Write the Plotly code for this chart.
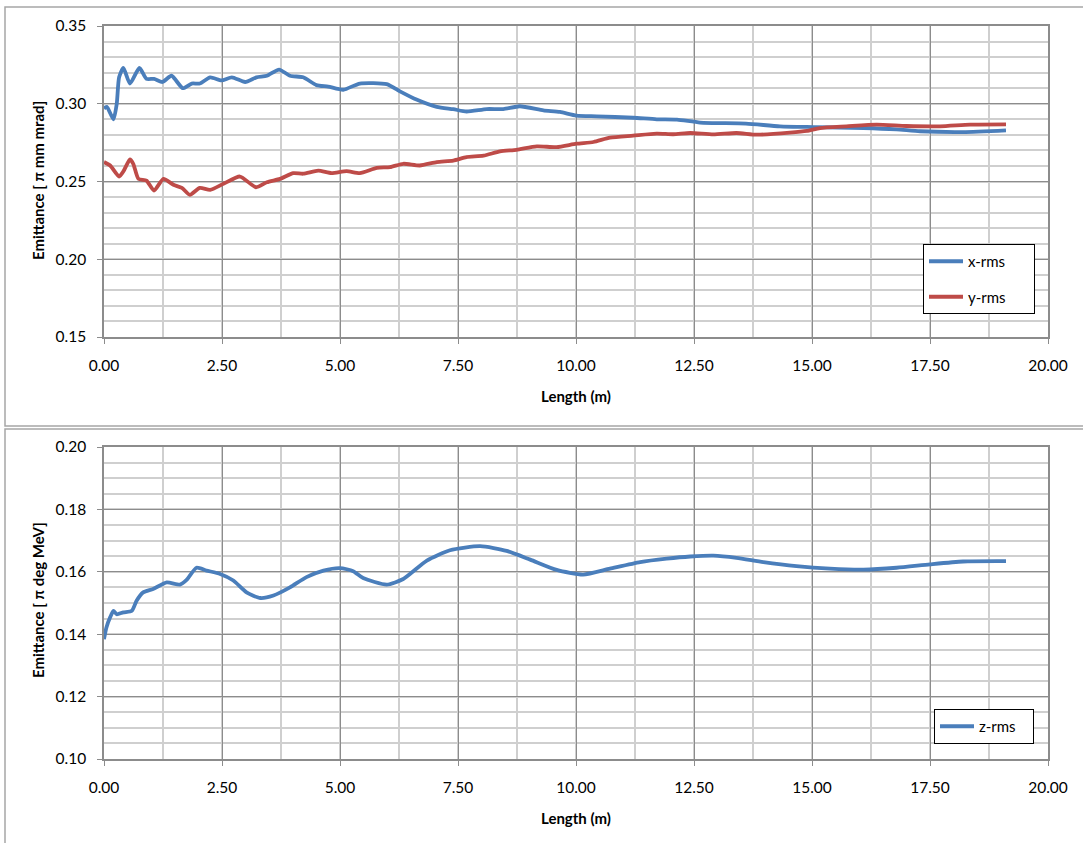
import plotly.graph_objects as go

# ---------------- data ----------------
xrms_len = [0.00, 0.06, 0.20, 0.27, 0.32, 0.41, 0.55, 0.75, 0.90, 1.06, 1.24, 1.43, 1.67, 1.86,
            2.03, 2.25, 2.49, 2.71, 2.99, 3.23, 3.45, 3.71, 3.94, 4.22, 4.50, 4.75, 5.07, 5.42,
            5.99, 6.27, 6.62, 7.05, 7.40, 7.68, 8.11, 8.46, 8.81, 9.31, 9.66, 10.01, 10.44,
            11.21, 11.71, 12.14, 12.63, 13.60, 14.32, 15.03, 16.09, 16.79, 17.29, 18.20, 19.11]
xrms_val = [0.297, 0.298, 0.290, 0.300, 0.317, 0.323, 0.313, 0.323, 0.316, 0.316, 0.314, 0.318,
            0.310, 0.313, 0.313, 0.317, 0.315, 0.317, 0.314, 0.317, 0.318, 0.322, 0.318, 0.317,
            0.312, 0.311, 0.309, 0.313, 0.3126, 0.308, 0.3027, 0.298, 0.2965, 0.295, 0.2966,
            0.2966, 0.2984, 0.2958, 0.2947, 0.2924, 0.2919, 0.291, 0.290, 0.2898, 0.2879,
            0.2872, 0.2855, 0.285, 0.2844, 0.2835, 0.2823, 0.2818, 0.2829]

yrms_len = [0.00, 0.13, 0.32, 0.42, 0.55, 0.62, 0.73, 0.90, 1.06, 1.26, 1.47, 1.65, 1.82, 2.03,
            2.25, 2.53, 2.88, 3.22, 3.45, 3.73, 4.01, 4.22, 4.54, 4.82, 5.14, 5.42, 5.78, 6.06,
            6.34, 6.69, 7.05, 7.40, 7.68, 8.04, 8.39, 8.74, 9.17, 9.59, 10.01, 10.37, 10.72,
            11.21, 11.71, 12.06, 12.42, 12.91, 13.40, 13.83, 14.53, 14.89, 15.17, 15.73, 16.37,
            17.00, 17.71, 18.35, 19.11]
yrms_val = [0.2625, 0.2603, 0.2532, 0.257, 0.2642, 0.2614, 0.2517, 0.2506, 0.2442, 0.2517,
            0.2479, 0.2459, 0.2414, 0.2459, 0.2446, 0.2485, 0.2532, 0.2463, 0.2495, 0.2517,
            0.2554, 0.255, 0.257, 0.2554, 0.2567, 0.2554, 0.2588, 0.2592, 0.2614, 0.2603,
            0.2625, 0.2635, 0.2657, 0.2666, 0.2694, 0.2704, 0.2726, 0.2721, 0.2743, 0.2754,
            0.2782, 0.2795, 0.2808, 0.2804, 0.2812, 0.2803, 0.2812, 0.2801, 0.2814, 0.2825,
            0.2844, 0.2855, 0.2866, 0.2857, 0.2855, 0.2866, 0.2868]

zrms_len = [0.00, 0.05, 0.13, 0.20, 0.27, 0.41, 0.59, 0.69, 0.83, 1.04, 1.33, 1.61, 1.75, 1.96,
            2.17, 2.46, 2.74, 3.02, 3.31, 3.59, 3.94, 4.29, 4.65, 5.00, 5.28, 5.49, 5.99, 6.34,
            6.84, 7.33, 7.97, 8.53, 9.03, 9.59, 10.15, 10.72, 11.36, 11.92, 12.42, 12.91, 13.40,
            13.97, 14.67, 15.38, 16.09, 16.79, 17.50, 18.20, 19.11]
zrms_val = [0.1384, 0.1421, 0.1454, 0.1475, 0.1464, 0.147, 0.1475, 0.1507, 0.1534, 0.1545,
            0.1566, 0.1559, 0.1574, 0.1613, 0.1604, 0.1593, 0.1572, 0.1534, 0.1516, 0.1524,
            0.155, 0.1583, 0.1604, 0.1612, 0.1602, 0.158, 0.1559, 0.1577, 0.1636, 0.1669,
            0.1682, 0.1667, 0.1639, 0.1606, 0.1591, 0.161, 0.1631, 0.1642, 0.1649, 0.1652,
            0.1645, 0.1631, 0.1618, 0.161, 0.1607, 0.1613, 0.1624, 0.1633, 0.1634]

x_ticks = [0.0, 2.5, 5.0, 7.5, 10.0, 12.5, 15.0, 17.5, 20.0]
x_ticklabels = ["0.00", "2.50", "5.00", "7.50", "10.00", "12.50", "15.00", "17.50", "20.00"]
y1_ticks = [0.15, 0.20, 0.25, 0.30, 0.35]
y2_ticks = [0.10, 0.12, 0.14, 0.16, 0.18, 0.20]

BLUE = "#4A7EBB"
RED = "#BE4B48"
FONT = "Lato"

W, H = 1083, 843

def px_x(p):
    return p / W

def px_y(p):
    return 1 - p / H

NB = "\u00a0"

fig = go.Figure()

fig.add_trace(go.Scatter(x=xrms_len, y=xrms_val, mode="lines", name="x-rms" + NB * 6,
                         line=dict(color=BLUE, width=3.8, shape="spline", smoothing=0.6),
                         xaxis="x", yaxis="y", legend="legend", legendgroup="a"))
fig.add_trace(go.Scatter(x=yrms_len, y=yrms_val, mode="lines", name="y-rms" + NB * 6,
                         line=dict(color=RED, width=3.8, shape="spline", smoothing=0.6),
                         xaxis="x", yaxis="y", legend="legend", legendgroup="b"))
fig.add_trace(go.Scatter(x=zrms_len, y=zrms_val, mode="lines", name="z-rms" + NB * 3,
                         line=dict(color=BLUE, width=3.8, shape="spline", smoothing=0.6),
                         xaxis="x2", yaxis="y2", legend="legend2"))

MAJ = "#8C8C8C"
MIN = "#CFCFCF"
tickfont = dict(family=FONT, size=15.5, color="#000000")

common_x = dict(range=[0, 20], tickvals=x_ticks, ticktext=x_ticklabels, showgrid=True,
                gridcolor=MAJ, gridwidth=1, showline=True, linecolor="#8C8C8C", linewidth=1.5,
                mirror=True, ticks="outside", ticklen=5, tickcolor="#8C8C8C",
                tickfont=tickfont, zeroline=False, ticklabelstandoff=9, automargin=False,
                minor=dict(dtick=1.25, tick0=0, showgrid=True, gridcolor=MIN, gridwidth=1.5, ticks=""),
                domain=[px_x(104), px_x(1048)], fixedrange=True)

fig.update_layout(
    template="none",
    width=W, height=H,
    margin=dict(l=0, r=0, t=0, b=0, pad=0, autoexpand=False),
    paper_bgcolor="white", plot_bgcolor="white",
    xaxis=dict(anchor="y", **common_x),
    xaxis2=dict(anchor="y2", **common_x),
    yaxis=dict(anchor="x", range=[0.15, 0.35], tickvals=y1_ticks, tickformat=".2f",
               domain=[px_y(337), px_y(26)], showgrid=True, gridcolor=MAJ, gridwidth=1,
               showline=True, linecolor="#8C8C8C", linewidth=1.5, mirror=True,
               ticks="outside", ticklen=5, tickcolor="#8C8C8C", tickfont=tickfont,
               zeroline=False, ticklabelstandoff=8, automargin=False, fixedrange=True,
               minor=dict(dtick=0.01, tick0=0.15, showgrid=True, gridcolor=MIN, gridwidth=1.5, ticks="")),
    yaxis2=dict(anchor="x2", range=[0.10, 0.20], tickvals=y2_ticks, tickformat=".2f",
                domain=[px_y(759), px_y(447)], showgrid=True, gridcolor=MAJ, gridwidth=1,
                showline=True, linecolor="#8C8C8C", linewidth=1.5, mirror=True,
                ticks="outside", ticklen=5, tickcolor="#8C8C8C", tickfont=tickfont,
                zeroline=False, ticklabelstandoff=8, automargin=False, fixedrange=True,
                minor=dict(dtick=0.005, tick0=0.10, showgrid=True, gridcolor=MIN, gridwidth=1.5, ticks="")),
    legend=dict(x=px_x(923), y=px_y(244), xanchor="left", yanchor="top",
                bordercolor="#000000", borderwidth=1, bgcolor="white",
                font=dict(family=FONT, size=15, color="#000000"),
                traceorder="grouped", tracegroupgap=13, itemwidth=34),
    legend2=dict(x=px_x(934), y=px_y(709), xanchor="left", yanchor="top",
                 bordercolor="#000000", borderwidth=1, bgcolor="white",
                 font=dict(family=FONT, size=15, color="#000000"), itemwidth=34),
    showlegend=True,
)

# chart-area borders
fig.add_shape(type="rect", xref="paper", yref="paper",
              x0=px_x(5), x1=1.02, y0=px_y(426), y1=px_y(7),
              line=dict(color="#A6A6A6", width=1.5), fillcolor="rgba(0,0,0,0)", layer="below")
fig.add_shape(type="rect", xref="paper", yref="paper",
              x0=px_x(5), x1=1.02, y0=-0.02, y1=px_y(429),
              line=dict(color="#A6A6A6", width=1.5), fillcolor="rgba(0,0,0,0)", layer="below")

title_font = dict(family=FONT, size=15, color="#000000")
ann = dict(xref="paper", yref="paper", showarrow=False, font=title_font,
           xanchor="center", yanchor="middle")
fig.add_annotation(text="<b>Emittance [ π mm mrad]</b>", x=px_x(38), y=px_y(181),
                   textangle=-90, **ann)
fig.add_annotation(text="<b>Length (m)</b>", x=px_x(576), y=px_y(396), **ann)
fig.add_annotation(text="<b>Emittance [ π deg MeV]</b>", x=px_x(38), y=px_y(600),
                   textangle=-90, **ann)
fig.add_annotation(text="<b>Length (m)</b>", x=px_x(576), y=px_y(818), **ann)

fig.write_html(
    "out.html",
    post_script="document.body.style.margin='0';document.body.style.overflow='hidden';",
)
